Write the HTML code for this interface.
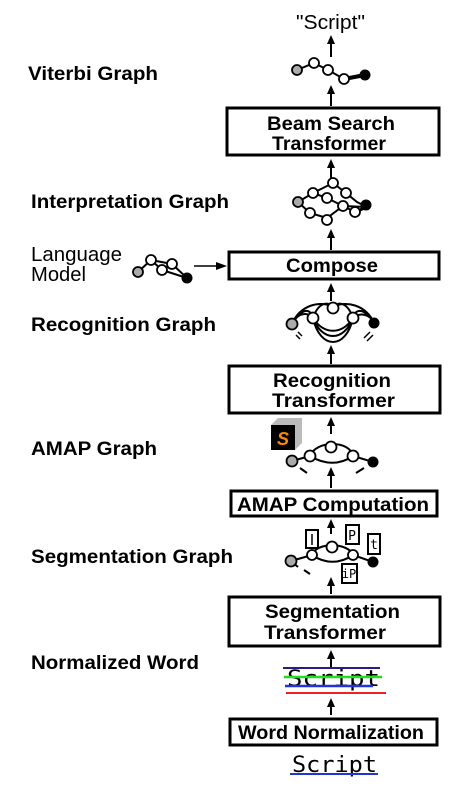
<!DOCTYPE html>
<html><head><style>
html,body{margin:0;padding:0;background:#fff;}
svg{display:block;}
.l{font-family:"Liberation Sans",sans-serif;font-weight:bold;font-size:19px;fill:#000;}
.n{font-family:"Liberation Sans",sans-serif;font-size:20px;fill:#000;}
.bx{fill:#fff;stroke:#000;stroke-width:3;}
.e{fill:none;stroke:#000;stroke-width:2;}
.w{fill:#fff;stroke:#000;stroke-width:1.8;}
.g{fill:#aaa;stroke:#000;stroke-width:1.8;}
.k{fill:#000;}
.hw{font-family:"DejaVu Sans Mono","Liberation Mono",monospace;font-size:22px;fill:#000;}
.ar{stroke:#000;stroke-width:2;}
</style></head><body>
<svg width="449" height="806" viewBox="0 0 449 806" xmlns="http://www.w3.org/2000/svg">

<!-- labels -->
<text class="l" x="28" y="80" textLength="130" lengthAdjust="spacingAndGlyphs">Viterbi Graph</text>
<text class="l" x="31" y="208" textLength="198" lengthAdjust="spacingAndGlyphs">Interpretation Graph</text>
<text class="n" x="31" y="261" textLength="91" lengthAdjust="spacingAndGlyphs">Language</text>
<text class="n" x="31" y="281" textLength="55" lengthAdjust="spacingAndGlyphs">Model</text>
<text class="l" x="31" y="331" textLength="185" lengthAdjust="spacingAndGlyphs">Recognition Graph</text>
<text class="l" x="31" y="455" textLength="126" lengthAdjust="spacingAndGlyphs">AMAP Graph</text>
<text class="l" x="31" y="563" textLength="202" lengthAdjust="spacingAndGlyphs">Segmentation Graph</text>
<text class="l" x="31" y="669" textLength="168" lengthAdjust="spacingAndGlyphs">Normalized Word</text>

<!-- Script top -->
<text class="n" x="296" y="29" textLength="69" lengthAdjust="spacingAndGlyphs">"Script"</text>
<line class="ar" x1="331" y1="57" x2="331" y2="42"/><polygon points="327,44 331,35 335,44"/>

<!-- Viterbi graph -->
<path class="e" d="M297,70 L314,63 L328,70 L344,79" />
<path d="M344,79 L365,75" stroke="#000" stroke-width="4"/>
<circle class="g" cx="297" cy="70" r="5"/><circle class="w" cx="314" cy="63" r="5"/><circle class="w" cx="328" cy="70" r="5"/><circle class="w" cx="344" cy="79" r="5"/><circle class="k" cx="365" cy="75" r="5.5"/>
<line class="ar" x1="331" y1="106" x2="331" y2="92"/><polygon points="327,94 331,85 335,94"/>

<!-- Beam search -->
<rect class="bx" x="227" y="108" width="212" height="47"/>
<text class="l" x="267" y="130" textLength="128" lengthAdjust="spacingAndGlyphs">Beam Search</text>
<text class="l" x="272" y="150" textLength="114" lengthAdjust="spacingAndGlyphs">Transformer</text>
<line class="ar" x1="331" y1="178" x2="331" y2="166"/><polygon points="327,168 331,159 335,168"/>

<!-- interpretation graph -->
<g>
<path class="e" d="M298,202 L313,193 L333,183 L346,193 L357,202 L367,207 M313,193 L327,198 L343,206 L355,212 M298,202 L310,213 L327,218 L343,206 M343,206 L367,207"/>
<path d="M355,212 L367,207" stroke="#000" stroke-width="3"/>
<circle class="g" cx="298" cy="202" r="5"/>
<circle class="w" cx="313" cy="193" r="5"/><circle class="w" cx="333" cy="183" r="5"/><circle class="w" cx="346" cy="193" r="5"/><circle class="w" cx="327" cy="198" r="5"/><circle class="w" cx="343" cy="206" r="5"/><circle class="w" cx="355" cy="212" r="5"/><circle class="w" cx="310" cy="213" r="5"/><circle class="w" cx="327" cy="220" r="5"/>
<circle class="k" cx="366" cy="205" r="5.5"/>
</g>
<line class="ar" x1="331" y1="250" x2="331" y2="236"/><polygon points="327,238 331,229 335,238"/>

<!-- language model -->
<path class="e" d="M138,272 L151,260 L162,270 L172,264 L187,278 M151,260 L172,264 M162,270 L187,278"/>
<circle class="g" cx="138" cy="272" r="5"/><circle class="w" cx="151" cy="260" r="5"/><circle class="w" cx="162" cy="270" r="5"/><circle class="w" cx="172" cy="264" r="5"/><circle class="k" cx="187" cy="278" r="5.5"/>
<line x1="194" y1="266" x2="218" y2="266" stroke="#000" stroke-width="1.5"/><polygon points="216,262 227,266 216,270"/>

<!-- compose -->
<rect class="bx" x="229" y="252" width="210" height="27"/>
<text class="l" x="286" y="272" textLength="92" lengthAdjust="spacingAndGlyphs">Compose</text>
<line class="ar" x1="331" y1="301" x2="331" y2="290"/><polygon points="327,292 331,283 335,292"/>

<!-- recognition graph -->
<g>
<path class="e" d="M292,324 C300,305 320,300 333,307 C346,300 366,305 374,323 M292,324 C300,310 310,306 313,318 M353,318 C356,306 366,310 374,323 M313,318 C320,350 346,350 353,318 M313,318 C322,342 344,342 353,318 M313,318 C324,335 342,335 353,318 M292,324 C298,312 308,312 313,318 M313,318 C318,303 328,300 333,308 M333,308 C338,300 348,303 353,318 M353,318 C360,312 370,314 374,323"/>
<circle class="g" cx="292" cy="324" r="5.5"/><circle class="w" cx="313" cy="318" r="5.5"/><circle class="w" cx="333" cy="308" r="5.5"/><circle class="w" cx="353" cy="318" r="5.5"/><circle class="k" cx="374" cy="323" r="5.5"/>
<path d="M298,332 L302,336 M296,335 L300,339 M364,338 L370,332 M367,341 L373,335" stroke="#000" stroke-width="1.5"/>
</g>
<line class="ar" x1="331" y1="364" x2="331" y2="352"/><polygon points="327,354 331,345 335,354"/>

<!-- recognition transformer -->
<rect class="bx" x="229" y="366" width="211" height="47"/>
<text class="l" x="273" y="387" textLength="118" lengthAdjust="spacingAndGlyphs">Recognition</text>
<text class="l" x="272" y="407" textLength="123" lengthAdjust="spacingAndGlyphs">Transformer</text>
<line class="ar" x1="331" y1="434" x2="331" y2="424"/><polygon points="327,426 331,417 335,426"/>

<!-- AMAP icon -->
<polygon points="271,425 278,418 302,418 302,443 295,450 271,450" fill="#bbb"/>
<rect x="271" y="425" width="24" height="25" fill="#000"/>
<text x="283" y="445" text-anchor="middle" style="font-family:'Liberation Sans',sans-serif;font-weight:bold;font-style:italic;font-size:18px;fill:#f80">S</text>

<!-- AMAP graph -->
<path class="e" d="M292,461 L310,456 C316,440 350,440 353,456 L373,462 M310,456 C325,465 340,465 353,456"/>
<circle class="g" cx="292" cy="461" r="5.5"/><circle class="w" cx="310" cy="456" r="5.5"/><circle class="w" cx="331" cy="447" r="5.5"/><circle class="w" cx="353" cy="456" r="5.5"/><circle class="k" cx="373" cy="462" r="5.5"/>
<path d="M300,468 L307,473 M356,473 L364,468" stroke="#000" stroke-width="2"/>
<line class="ar" x1="331" y1="488" x2="331" y2="474"/><polygon points="327,476 331,467 335,476"/>

<!-- AMAP computation -->
<rect class="bx" x="231" y="491" width="206" height="25"/>
<text class="l" x="237" y="511" textLength="192" lengthAdjust="spacingAndGlyphs">AMAP Computation</text>
<line class="ar" x1="331" y1="534" x2="331" y2="526"/><polygon points="327,528 331,519 335,528"/>

<!-- segmentation graph -->
<path class="e" d="M291,561 L312,555 C316,542 348,542 353,555 L373,562 M312,555 C325,564 340,564 353,555 M291,561 L298,567"/>
<circle class="g" cx="291" cy="561" r="5.5"/><circle class="w" cx="312" cy="555" r="5"/><circle class="w" cx="332" cy="547" r="5.5"/><circle class="w" cx="353" cy="555" r="5"/><circle class="k" cx="373" cy="562" r="5.5"/>
<path d="M304,570 L310,574" stroke="#000" stroke-width="2"/>
<rect x="306" y="530" width="12" height="18" fill="#fff" stroke="#000" stroke-width="2"/><line x1="312" y1="534" x2="312" y2="545" stroke="#000" stroke-width="1.5"/>
<rect x="346" y="525" width="13" height="19" fill="#fff" stroke="#000" stroke-width="2"/><text x="352" y="540" text-anchor="middle" style="font-family:'DejaVu Sans Mono',monospace;font-size:13px">P</text>
<rect x="368" y="534" width="12" height="20" fill="#fff" stroke="#000" stroke-width="2"/><text x="374" y="549" text-anchor="middle" style="font-family:'DejaVu Sans Mono',monospace;font-size:13px">t</text>
<rect x="342" y="564" width="15" height="19" fill="#fff" stroke="#000" stroke-width="2"/><text x="349" y="578" text-anchor="middle" style="font-family:'DejaVu Sans Mono',monospace;font-size:12px">iP</text>
<line class="ar" x1="331" y1="594" x2="331" y2="584"/><polygon points="327,586 331,577 335,586"/>

<!-- segmentation transformer -->
<rect class="bx" x="229" y="597" width="211" height="49"/>
<text class="l" x="265" y="618" textLength="135" lengthAdjust="spacingAndGlyphs">Segmentation</text>
<text class="l" x="264" y="639" textLength="122" lengthAdjust="spacingAndGlyphs">Transformer</text>
<line class="ar" x1="331" y1="668" x2="331" y2="657"/><polygon points="327,659 331,650 335,659"/>

<!-- normalized word -->
<line x1="283" y1="668" x2="380" y2="668" stroke="#2a1a8a" stroke-width="2"/>
<text class="hw" x="287" y="686" textLength="93" lengthAdjust="spacingAndGlyphs">Script</text>
<line x1="284" y1="677" x2="382" y2="677" stroke="#22dd22" stroke-width="2.5"/>
<line x1="285" y1="686" x2="373" y2="686" stroke="#2233dd" stroke-width="2.5"/>
<line x1="286" y1="693" x2="386" y2="693" stroke="#ee2222" stroke-width="2"/>
<line class="ar" x1="331" y1="715" x2="331" y2="705"/><polygon points="327,707 331,698 335,707"/>

<!-- word normalization -->
<rect class="bx" x="230" y="719" width="207" height="26"/>
<text class="l" x="238" y="739" textLength="186" lengthAdjust="spacingAndGlyphs">Word Normalization</text>

<!-- bottom script -->
<text class="hw" x="292" y="772" textLength="85" lengthAdjust="spacingAndGlyphs">Script</text>
<line x1="290" y1="774" x2="378" y2="774" stroke="#2233dd" stroke-width="2"/>
</svg>
</body></html>
